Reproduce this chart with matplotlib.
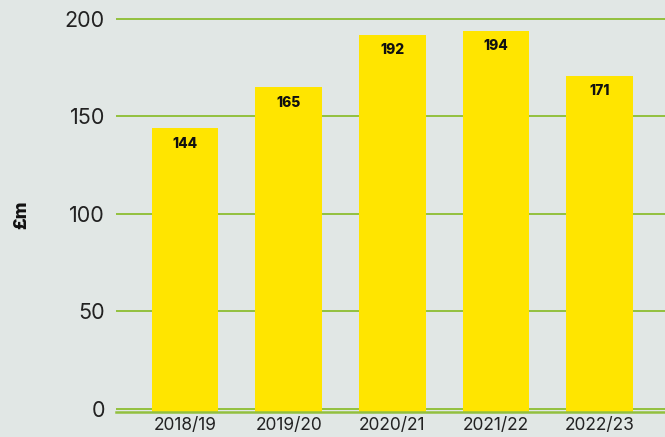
import matplotlib
matplotlib.use("Agg")
import matplotlib.pyplot as plt
import numpy as np

plt.rcParams['font.family'] = ['Inter', 'DejaVu Sans']

years = ['2018/19', '2019/20', '2020/21', '2021/22', '2022/23']
values = [144, 165, 192, 194, 171]

bg = '#e1e7e5'
green = '#92c03e'
yellow = '#ffe500'

fig = plt.figure(figsize=(6.65, 4.37), dpi=100, facecolor=bg)
ax = fig.add_axes([116/665, 1-411.5/437, 1-116/665, (411.5-17)/437])
ax.set_facecolor(bg)

low = -1.3
x = np.arange(len(years))
ax.bar(x, np.array(values) - low, bottom=low, width=0.645, color=yellow, zorder=2)
for xi, v in zip(x, values):
    ax.text(xi, v - 8, str(v), ha='center', va='center', fontsize=10,
            fontweight='heavy', color='#111111', zorder=3)

ax.set_xlim(-0.665, 4.63)
ax.set_ylim(low, 201)
ax.set_yticks([0, 50, 100, 150, 200])
ax.set_xticks(x)
ax.set_xticklabels(years)
ax.yaxis.grid(True, color=green, linewidth=1.4, zorder=0)
ax.set_axisbelow(True)
for s in ['top', 'right', 'left']:
    ax.spines[s].set_visible(False)
ax.spines['bottom'].set_color(green)
ax.spines['bottom'].set_linewidth(1.8)
ax.tick_params(axis='y', length=0, pad=8, labelsize=15.5, labelcolor='#222222')
ax.tick_params(axis='x', length=0, pad=4, labelsize=12.5, labelcolor='#222222')
fig.text(22/665, 1-215/437, '£m', rotation=90, ha='center', va='center',
         fontsize=13, fontweight='heavy', color='#111111')

fig.savefig('out.png', dpi=100, facecolor=bg)
